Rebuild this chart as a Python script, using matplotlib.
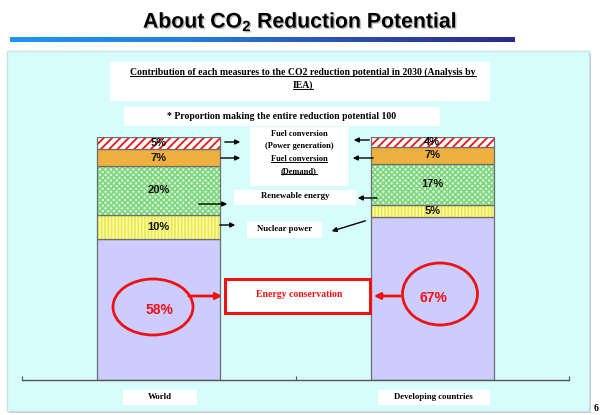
import numpy as np
import matplotlib
matplotlib.use('Agg')
import matplotlib.pyplot as plt
from matplotlib.patches import Rectangle, Ellipse
from matplotlib.colors import LinearSegmentedColormap
from matplotlib import patheffects
import matplotlib.transforms as mtransforms

# data
categories = ['World', 'Developing countries']
measures = ['Energy conservation', 'Nuclear power', 'Renewable energy',
            'Fuel conversion (Demand)', 'Fuel conversion (Power generation)']
world = [58, 10, 20, 7, 5]
developing = [67, 5, 17, 7, 4]

plt.rcParams['font.family'] = ['Liberation Sans', 'DejaVu Sans']
plt.rcParams['mathtext.fontset'] = 'custom'
plt.rcParams['mathtext.rm'] = 'Liberation Sans:bold'
plt.rcParams['mathtext.bf'] = 'Liberation Sans:bold'
plt.rcParams['hatch.linewidth'] = 1.3

W, H = 600, 415
fig = plt.figure(figsize=(6, 4.15), dpi=100, facecolor='white')

# background axes in pixel coords (y down)
bg = fig.add_axes([0, 0, 1, 1], zorder=0)
bg.set_xlim(0, W)
bg.set_ylim(H, 0)
bg.axis('off')

# slide title + gradient rule
bg.text(300, 22, r'About CO$_\mathbf{2}$ Reduction Potential', ha='center', va='center',
        fontsize=15.3, fontweight='bold', color='black',
        path_effects=[patheffects.withSimplePatchShadow(offset=(1, -1), shadow_rgbFace='#999999', alpha=0.6)])
cmap = LinearSegmentedColormap.from_list('rule', ['#1c96f2', '#2480e0', '#2a50b0', '#2a2a88'])
bg.imshow(np.linspace(0, 1, 256)[None, :], cmap=cmap, aspect='auto',
          extent=(10, 515, 42, 37), zorder=1)

# light cyan panel with soft shadow
bg.add_patch(Rectangle((9, 53), 582, 360, facecolor='#c8c8c8', edgecolor='none', zorder=1))
bg.add_patch(Rectangle((7, 51), 582, 360, facecolor='#d6fcfc', edgecolor='#c4e4e4', lw=1, zorder=2))
bg.set_xlim(0, W)
bg.set_ylim(H, 0)

# bar axes
ax = fig.add_axes([22 / W, 35 / H, 547 / W, 243 / H], zorder=1)
ax.patch.set_alpha(0)
x = np.arange(len(categories))
width = 0.45
face = ['#ccccff', '#ffff99', '#e6fbe6', '#f0b040', 'white']
hatch_col = [None, '#e8e860', '#7fd87f', None, '#ee1111']
hatches = [None, '|||||', 'xxxxxx', None, '////']

stack = np.array([world, developing]).T
bottom = np.zeros(len(categories))
for i, vals in enumerate(stack):
    if hatches[i]:
        ax.bar(x, vals, width, bottom=bottom, color=face[i], edgecolor=hatch_col[i],
               hatch=hatches[i], lw=0)
    else:
        ax.bar(x, vals, width, bottom=bottom, color=face[i], lw=0)
    ax.bar(x, vals, width, bottom=bottom, fill=False, edgecolor='#6e6e6e', lw=0.9)
    if i > 0:
        for xi, v, b in zip(x, vals, bottom):
            ax.text(xi, b + v / 2, f'{v}%', ha='center', va='center',
                    fontsize=8, fontweight='bold', color='#111111')
    bottom += vals

ax.set_xlim(-0.5, 1.5)
ax.set_ylim(0, 100)
for s in ['left', 'right', 'top']:
    ax.spines[s].set_visible(False)
ax.spines['bottom'].set_color('#555555')
ax.spines['bottom'].set_linewidth(1)
ax.set_yticks([])
ax.set_xticks([-0.5, 0.5, 1.5])
ax.set_xticklabels([])
ax.tick_params(axis='x', direction='in', length=3, color='#555555')

# category labels in white boxes
trans = mtransforms.blended_transform_factory(ax.transData, ax.transAxes)
box_w = [0.27, 0.41]
for xi, cat, bw in zip(x, categories, box_w):
    ax.add_patch(Rectangle((xi - bw / 2 + 0.005, -0.041), bw, -0.062, transform=trans,
                           facecolor='white', edgecolor='none', clip_on=False))
    ax.text(xi + 0.005, -0.068, cat, transform=trans, ha='center', va='center',
            family='Liberation Serif', fontweight='bold', fontsize=6.3)

# overlay for annotations, pixel coords
ov = fig.add_axes([0, 0, 1, 1], zorder=2)
ov.patch.set_alpha(0)
ov.set_xlim(0, W)
ov.set_ylim(H, 0)
ov.axis('off')

serif = dict(family='Liberation Serif', fontweight='bold')

def box(x0, y0, x1, y1, **kw):
    ov.add_patch(Rectangle((x0, y0), x1 - x0, y1 - y0, facecolor='white', edgecolor='none', **kw))

box(110, 62, 490, 101)
t1 = ov.text(303, 72, 'Contribution of each measures to the CO2 reduction potential in 2030 (Analysis by',
             ha='center', va='center', fontsize=7, **serif)
t2 = ov.text(303, 85, 'IEA)', ha='center', va='center', fontsize=7, **serif)
box(124, 107, 440, 126)
ov.text(282, 116, '* Proportion making the entire reduction potential 100',
        ha='center', va='center', fontsize=7, **serif)

box(250, 127, 348, 186)
ov.text(299, 134, 'Fuel conversion', ha='center', va='center', fontsize=6, **serif)
ov.text(299, 146, '(Power generation)', ha='center', va='center', fontsize=6, **serif)
t3 = ov.text(299, 159, 'Fuel conversion', ha='center', va='center', fontsize=6, **serif)
t4 = ov.text(299, 171, '(Demand)', ha='center', va='center', fontsize=6, **serif)
box(234, 190, 356, 205)
ov.text(295, 196, 'Renewable energy', ha='center', va='center', fontsize=6.3, **serif)
box(247, 222, 322, 238)
ov.text(285, 229, 'Nuclear power', ha='center', va='center', fontsize=6.3, **serif)

# energy conservation callout
ov.add_patch(Rectangle((225, 279), 145, 34, facecolor='white', edgecolor='#ee1111', lw=2.2))
ov.text(299, 294, 'Energy conservation', ha='center', va='center', fontsize=7,
        color='#ee1111', **serif)
ov.add_patch(Ellipse((153, 307), 80, 56, fill=False, edgecolor='#ee1111', lw=2))
ov.add_patch(Ellipse((440, 294), 75, 62, fill=False, edgecolor='#ee1111', lw=2))
ov.text(159, 310, f'{world[0]}%', ha='center', va='center', fontsize=10,
        fontweight='bold', color='#ee1111')
ov.text(433, 298, f'{developing[0]}%', ha='center', va='center', fontsize=10,
        fontweight='bold', color='#ee1111')
red = dict(arrowstyle='-|>', color='#ee1111', lw=2, mutation_scale=9)
ov.annotate('', xy=(225, 296), xytext=(186, 296), arrowprops=red)
ov.annotate('', xy=(371, 296), xytext=(403, 296), arrowprops=red)

# black pointer arrows
blk = dict(arrowstyle='-|>', color='black', lw=1, mutation_scale=7)
for (x0, y0, x1, y1) in [(222, 142, 243, 142), (218, 158, 243, 158), (196, 204, 230, 204),
                         (217, 225, 238, 225), (372, 140, 351, 140), (376, 158, 350, 158),
                         (380, 198, 355, 198), (368, 220, 329, 232)]:
    ov.annotate('', xy=(x1, y1), xytext=(x0, y0), arrowprops=blk)

ov.text(596, 408, '6', ha='center', va='center', fontsize=7, **serif)

# underline the underlined labels
fig.canvas.draw()
inv = ov.transData.inverted()
for t in [t1, t2, t3, t4]:
    bb = t.get_window_extent()
    (xa, ya), (xb, yb) = inv.transform([(bb.x0, bb.y0), (bb.x1, bb.y1)])
    ov.plot([xa, xb], [ya - 0.5, ya - 0.5], color='black', lw=0.7)
ov.set_xlim(0, W)
ov.set_ylim(H, 0)

fig.savefig('out.png', dpi=100)
